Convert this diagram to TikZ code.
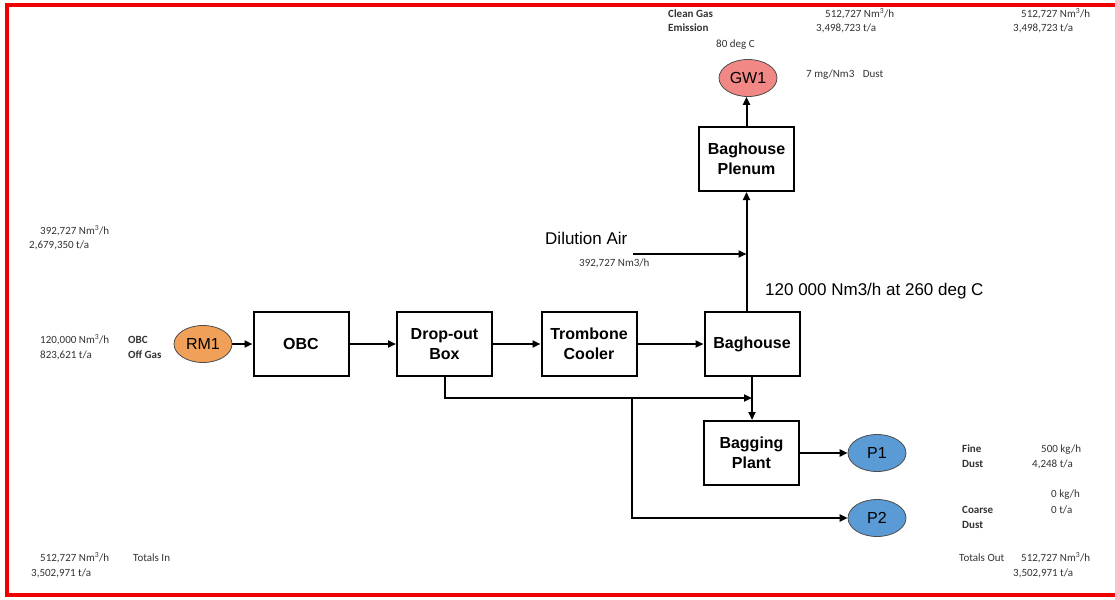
\documentclass[tikz,border=0pt]{standalone}
\usepackage{fontspec}
\setmainfont{Liberation Sans}
\newfontfamily\carl{Carlito}
\usetikzlibrary{arrows.meta,shapes.geometric}
\definecolor{rmorange}{HTML}{F0A058}
\definecolor{gwred}{HTML}{F28886}
\definecolor{pblue}{HTML}{5B9BD5}
\definecolor{frame}{HTML}{F00000}
\definecolor{txt}{HTML}{333333}
\tikzset{
  box/.style={draw=black,line width=2pt,fill=white,minimum width=95pt,minimum height=64pt,inner sep=0pt,align=center,font=\fontsize{16}{20}\selectfont\bfseries},
  oval/.style={ellipse,draw=black!70,line width=0.8pt,minimum width=58pt,minimum height=37pt,inner sep=0pt,font=\fontsize{16}{18}\selectfont},
  arr/.style={line width=2pt,-{Triangle[length=8pt,width=7pt]}},
  small/.style={anchor=mid west,inner sep=0pt,text=txt,font=\carl\fontsize{11}{13}\selectfont},
  smallb/.style={small,font=\carl\fontsize{11}{13}\selectfont\bfseries},
  big/.style={anchor=mid west,inner sep=0pt,font=\fontsize{17}{20}\selectfont}
}
\begin{document}
\begin{tikzpicture}[x=1pt,y=-1pt]
\useasboundingbox (0,0) rectangle (1115,599);
\fill[white] (0,0) rectangle (1115,599);
\draw[frame,line width=4pt] (1125,5) -- (7,5) -- (7,595) -- (1125,595);

% nodes
\node[oval,fill=rmorange] (rm1) at (203,344) {RM1};
\node[box] (obc) at (301,344) {OBC};
\node[box] (dob) at (444.5,344) {Drop-out\\Box};
\node[box] (tc) at (589,344) {Trombone\\Cooler};
\node[box] (bh) at (752,344) {Baghouse};
\node[box] (plenum) at (746.5,159) {Baghouse\\Plenum};
\node[oval,fill=gwred] (gw1) at (748,78) {GW1};
\node[box] (bag) at (751.5,453) {Bagging\\Plant};
\node[oval,fill=pblue] (p1) at (877,453) {P1};
\node[oval,fill=pblue] (p2) at (877,518) {P2};

\coordinate (dil) at (633,254);
\coordinate (j1) at (752,398);
\coordinate (j2) at (632,398);

% connectors
\draw[arr] (rm1) -- (obc);
\draw[arr] (obc) -- (dob);
\draw[arr] (dob) -- (tc);
\draw[arr] (tc) -- (bh);
\draw[arr] (plenum.south |- bh.north) -- (plenum.south);
\draw[arr] (dil) -- (dil -| plenum.south);
\draw[arr] (plenum.north) -- (gw1.south -| plenum.north);
\draw[arr] (bh.south) -- (bag.north -| bh.south);
\draw[arr] (dob.south) |- (j1);
\draw[arr] (j2) |- (p2);
\draw[arr] (bag) -- (p1);

% labels top
\node[smallb] (cg) at (668,15) {Clean Gas};
\node[smallb] (em) at (668,29) {Emission};
\node[small] (cg1) at (825,15) {512,727 Nm\textsuperscript{3}/h};
\node[small] (em1) at (816,29) {3,498,723 t/a};
\node[small] (cg2) at (1021,15) {512,727 Nm\textsuperscript{3}/h};
\node[small] (em2) at (1013,29) {3,498,723 t/a};
\node[small] (deg) at (716,45) {80 deg C};
\node[small] (dust) at (806,75) {7 mg/Nm3\hspace{6pt} Dust};

% left labels
\node[small] (l1) at (40,232) {392,727 Nm\textsuperscript{3}/h};
\node[small] (l2) at (29,246) {2,679,350 t/a};
\node[small] (l3) at (40,341) {120,000 Nm\textsuperscript{3}/h};
\node[small] (l4) at (40,356) {823,621 t/a};
\node[smallb] (l5) at (128,341) {OBC};
\node[smallb] (l6) at (128,356) {Off Gas};
\node[small] (l7) at (40,559) {512,727 Nm\textsuperscript{3}/h};
\node[small] (l8) at (133,559) {Totals In};
\node[small] (l9) at (31,574) {3,502,971 t/a};

% right labels
\node[smallb] (r1) at (962,450) {Fine};
\node[smallb] (r2) at (962,465) {Dust};
\node[small] (r3) at (1041,450) {500 kg/h};
\node[small] (r4) at (1032,465) {4,248 t/a};
\node[small] (r5) at (1051,495) {0 kg/h};
\node[smallb] (r6) at (962,511) {Coarse};
\node[small] (r7) at (1051,511) {0 t/a};
\node[smallb] (r8) at (962,526) {Dust};
\node[small] (r9) at (959,559) {Totals Out};
\node[small] (r10) at (1021,559) {512,727 Nm\textsuperscript{3}/h};
\node[small] (r11) at (1013,574) {3,502,971 t/a};

% middle labels
\node[big] (da) at (545,242) {Dilution Air};
\node[small] (da2) at (579,264) {392,727 Nm3/h};
\node[big] (flow) at (765,293) {120 000 Nm3/h at 260 deg C};
\end{tikzpicture}
\end{document}
